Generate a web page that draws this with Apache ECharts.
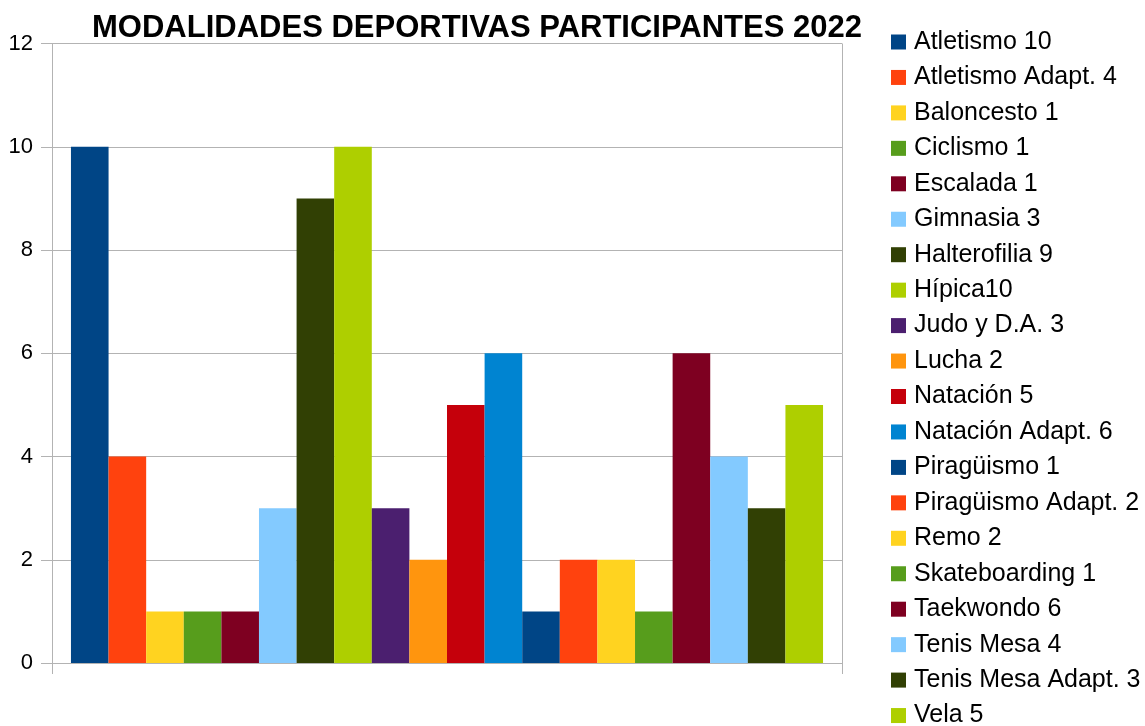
<!DOCTYPE html>
<html>
<head>
<meta charset="utf-8">
<script src="https://cdn.jsdelivr.net/npm/echarts@6/dist/echarts.min.js"></script>
<style>
  html, body { margin: 0; padding: 0; background: #fff; }
  #chart { width: 1145px; height: 726px; }
</style>
</head>
<body>
<div id="chart"></div>
<script>
  var names = [
    "Atletismo 10", "Atletismo Adapt. 4", "Baloncesto 1", "Ciclismo 1", "Escalada 1",
    "Gimnasia 3", "Halterofilia 9", "Hípica10", "Judo y D.A. 3", "Lucha 2",
    "Natación 5", "Natación Adapt. 6", "Piragüismo 1", "Piragüismo Adapt. 2", "Remo 2",
    "Skateboarding 1", "Taekwondo 6", "Tenis Mesa 4", "Tenis Mesa Adapt. 3", "Vela 5"
  ];
  var values = [10, 4, 1, 1, 1, 3, 9, 10, 3, 2, 5, 6, 1, 2, 2, 1, 6, 4, 3, 5];
  var palette = [
    "#004586", "#ff420e", "#ffd320", "#579d1c", "#7e0021", "#83caff",
    "#314004", "#aecf00", "#4b1f6f", "#ff950e", "#c5000b", "#0084d1"
  ];
  var yTicks = { min: 0, max: 12, interval: 2 };

  var font = "'Liberation Sans', Arial, sans-serif";
  var gridColor = "#b3b3b3";

  var myChart = echarts.init(document.getElementById("chart"));
  var series = names.map(function(n, i) {
    return {
      name: n,
      type: "bar",
      data: [values[i]],
      barGap: "0%",
      barCategoryGap: "4.8%",
      itemStyle: { color: palette[i % palette.length] }
    };
  });

  var option = {
    animation: false,
    backgroundColor: "#fff",
    title: {
      text: "MODALIDADES DEPORTIVAS PARTICIPANTES 2022",
      left: 472,
      textAlign: "center",
      top: 8,
      textStyle: {
        fontFamily: font,
        fontSize: 31,
        fontWeight: "bold",
        color: "#000"
      }
    },
    legend: {
      orient: "vertical",
      left: 891,
      top: 29.5,
      height: 800,
      padding: 0,
      itemWidth: 15,
      itemHeight: 15,
      itemGap: 10.45,
      icon: "rect",
      textStyle: {
        fontFamily: font,
        fontSize: 25,
        color: "#000",
        padding: [0, 0, 0, 3]
      },
      data: names
    },
    grid: {
      left: 52,
      right: 303,
      top: 43.5,
      bottom: 63,
      containLabel: false
    },
    xAxis: {
      type: "category",
      data: [""],
      axisLine: { lineStyle: { color: gridColor } },
      axisTick: { show: true, length: 11, lineStyle: { color: gridColor } },
      axisLabel: { show: false },
      splitLine: { show: true, lineStyle: { color: gridColor } }
    },
    yAxis: {
      type: "value",
      min: yTicks.min,
      max: yTicks.max,
      interval: yTicks.interval,
      axisLine: { show: true, lineStyle: { color: gridColor } },
      axisTick: { show: true, length: 11, lineStyle: { color: gridColor } },
      axisLabel: {
        margin: 19,
        fontFamily: font,
        fontSize: 22,
        color: "#000"
      },
      splitLine: { lineStyle: { color: gridColor } }
    },
    series: series
  };
  myChart.setOption(option);
  window.addEventListener("resize", function() {
    myChart.resize();
  });
</script>
</body>
</html>
